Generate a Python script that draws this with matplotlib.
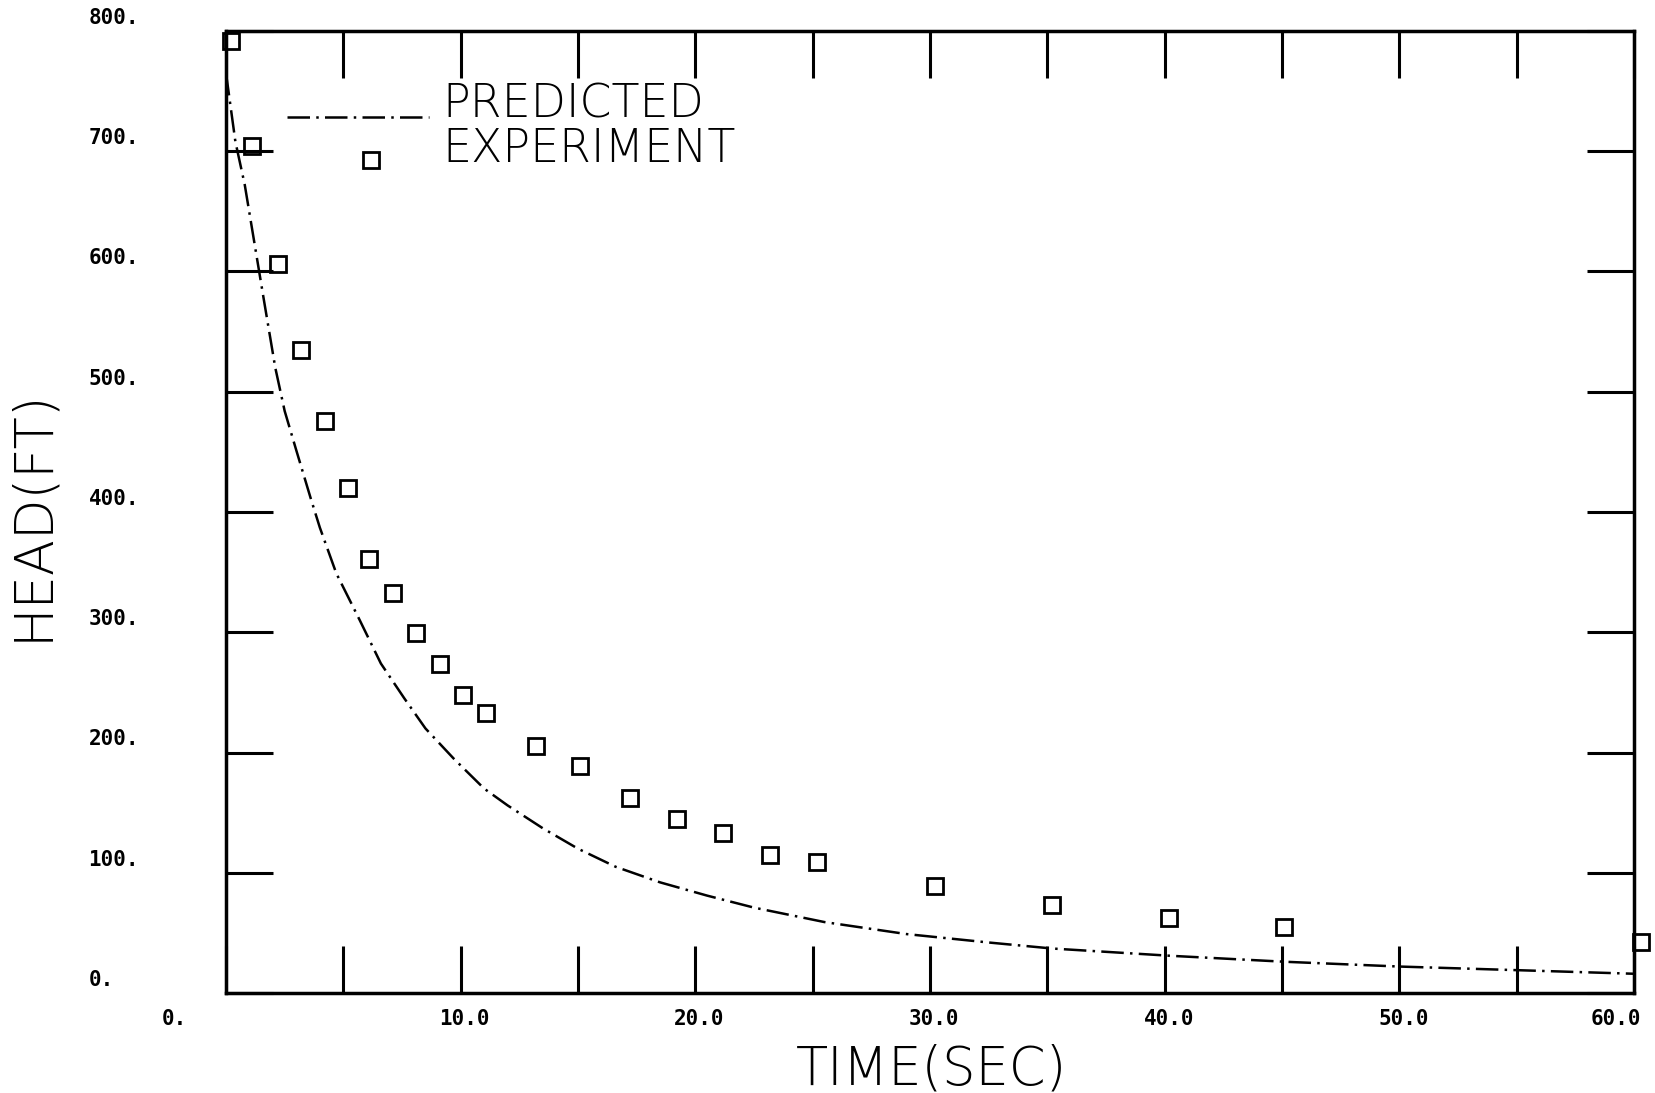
import matplotlib
matplotlib.use("Agg")
import matplotlib.pyplot as plt
from matplotlib import font_manager
from matplotlib.lines import Line2D
from matplotlib.legend_handler import HandlerLine2D

# experiment: measured head (ft) against time (s)
exp_time = [0.2, 1.1, 2.2, 3.2, 4.2, 5.2, 6.1, 7.1, 8.1, 9.1, 10.1, 11.1,
            13.2, 15.1, 17.2, 19.2, 21.2, 23.2, 25.2, 30.2, 35.2, 40.2, 45.1, 60.3]
exp_head = [792, 704, 606, 535, 476, 420, 361, 333, 299, 274, 248, 233,
            205, 189, 162, 145, 133, 115, 109, 89, 73, 62, 55, 42]

# predicted head curve
pred_time = [0.0, 0.4, 0.8, 1.2, 1.6, 2.1, 2.5, 3.0, 3.6, 4.0, 4.7, 5.7, 6.6,
             7.6, 8.5, 9.7, 11.0, 12.0, 13.5, 15.0, 16.6, 18.5, 20.5, 22.5,
             25.5, 29.0, 32.5, 35.2, 40.2, 45.1, 50.0, 55.0, 60.0]
pred_head = [765, 708, 672, 625, 578, 520, 484, 451, 412, 387, 349, 310, 274,
             245, 220, 195, 170, 156, 137, 120, 105, 92, 81, 71,
             59, 49, 42, 37, 31, 26, 22, 19, 16]

x_ticks = list(range(0, 61, 5))
x_label_vals = [0, 10, 20, 30, 40, 50, 60]
x_label_txt = ["0.", "10.0", "20.0", "30.0", "40.0", "50.0", "60.0"]
y_ticks = list(range(0, 801, 100))
y_label_txt = ["0.", "100.", "200.", "300.", "400.", "500.", "600.", "700.", "800."]

names = {f.name for f in font_manager.fontManager.ttflist}
big_font = "Liberation Sans Narrow" if "Liberation Sans Narrow" in names else "DejaVu Sans"

W, H = 1656, 1093
fig = plt.figure(figsize=(W / 100, H / 100), dpi=100)
ax_l, ax_r, ax_t, ax_b = 226, 1634, 31, 993
ax = fig.add_axes([ax_l / W, 1 - ax_b / H, (ax_r - ax_l) / W, (ax_b - ax_t) / H])

dash = (0, (9, 2.5, 1, 2.5))
ax.plot(pred_time, pred_head, color="black", lw=1.8, linestyle=dash)
ax.plot(exp_time, exp_head, linestyle="none", marker="s", markersize=11.5,
        markerfacecolor="none", markeredgecolor="black", markeredgewidth=2,
        clip_on=False)

ax.set_xlim(0, 60)
ax.set_ylim(0, 800)
ax.set_xticks(x_ticks)
ax.set_yticks(y_ticks)
ax.tick_params(direction="in", length=34, width=2.2, top=True, right=True,
               labelbottom=False, labelleft=False)
for s in ax.spines.values():
    s.set_linewidth(2.5)

# plotter-style tick labels
for v, t in zip(x_label_vals, x_label_txt):
    dx = -37 if v == 0 else (-13 if v == 60 else 3)
    ax.annotate(t, xy=(v, 0), xytext=(dx, -18.7), textcoords="offset points",
                ha="center", va="center", fontsize=15, fontweight="bold",
                family="DejaVu Sans Mono", annotation_clip=False)
for v, t in zip(y_ticks, y_label_txt):
    ax.annotate(t, xy=(0, v), xytext=(-99, 9.4), textcoords="offset points",
                ha="left", va="center", fontsize=15, fontweight="bold",
                family="DejaVu Sans Mono", annotation_clip=False)

fig.text(32 / W, 1 - 515 / H, "HEAD(FT)", rotation=90, ha="center", va="center",
         fontsize=38, family=big_font, fontweight="light")
fig.text(932 / W, 1 - 1070 / H, "TIME(SEC)", ha="center", va="center",
         fontsize=38, family=big_font, fontweight="light")


# legend keys sit a little below their labels, marker slightly right of centre
def drop_line(leg_line, orig):
    leg_line.update_from(orig)
    leg_line.set_ydata(leg_line.get_ydata() - 11)


def drop_marker(leg_line, orig):
    leg_line.update_from(orig)
    leg_line.set_xdata(leg_line.get_xdata() + 9)
    leg_line.set_ydata(leg_line.get_ydata() - 10)


pred_key = Line2D([], [], color="black", lw=1.8, linestyle=dash)
exp_key = Line2D([], [], linestyle="none", marker="s", markersize=11.5,
                 markerfacecolor="none", markeredgecolor="black", markeredgewidth=2)
ax.legend([pred_key, exp_key], ["PREDICTED", "EXPERIMENT"], loc="upper left",
          bbox_to_anchor=((287 - ax_l) / (ax_r - ax_l), (ax_b - 83) / (ax_b - ax_t)),
          frameon=False, prop={"family": big_font, "size": 33, "weight": "light"},
          handlelength=3.1, handletextpad=0.28, labelspacing=0.0,
          borderpad=0, borderaxespad=0,
          handler_map={pred_key: HandlerLine2D(update_func=drop_line),
                       exp_key: HandlerLine2D(update_func=drop_marker)})

fig.savefig("out.png", dpi=100, facecolor="white")
